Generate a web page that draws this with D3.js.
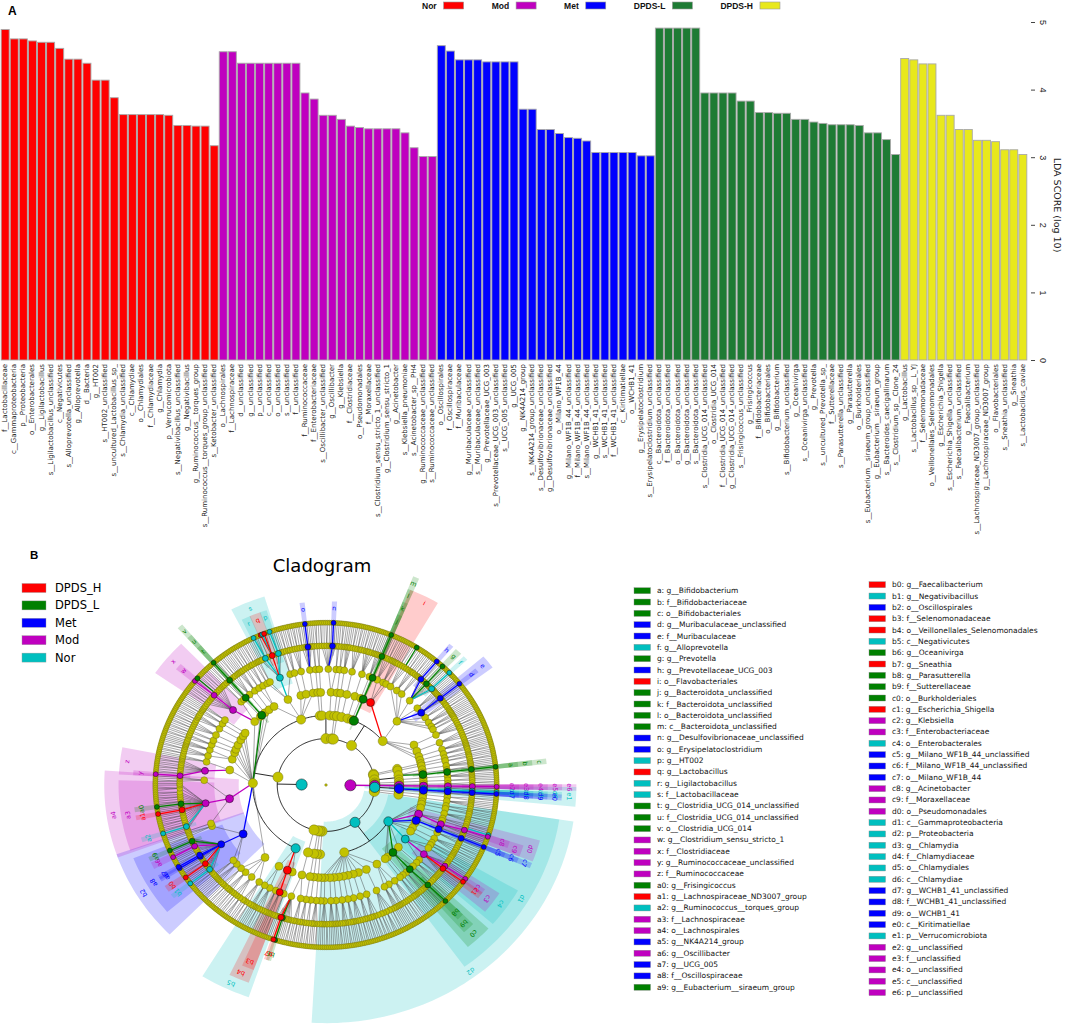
<!DOCTYPE html>
<html>
<head>
<meta charset="utf-8">
<script src="https://cdn.jsdelivr.net/npm/d3@7"></script>
<style>
  body { margin: 0; background: #fff; }
  svg { display: block; font-family: "DejaVu Sans", sans-serif; }
</style>
</head>
<body>
<script>
// ---- panel A data: LDA scores per enriched group
const barGroups = ["Nor", "Mod", "Met", "DPDS-L", "DPDS-H"];

const norTaxa = ["f__Lactobacillaceae", "c__Gammaproteobacteria", "p__Proteobacteria", "o__Enterobacterales",
  "g__Ligilactobacillus", "s__Ligilactobacillus_unclassified", "c__Negativicutes", "s__Alloprevotella_unclassified",
  "g__Alloprevotella", "d__Bacteria", "g__HT002", "s__HT002_unclassified", "s__uncultured_Lactobacillus_sp_",
  "s__Chlamydia_unclassified", "c__Chlamydiae", "o__Chlamydiales", "f__Chlamydiaceae", "g__Chlamydia",
  "p__Verrucomicrobiota", "s__Negativibacillus_unclassified", "g__Negativibacillus", "g__Ruminococcus__torques_group",
  "s__Ruminococcus__torques_group_unclassified", "s__Ketobacter_unclassified"];
const norScores = [4.89, 4.75, 4.75, 4.72, 4.70, 4.70, 4.61, 4.45, 4.45, 4.39, 4.14, 4.14, 3.88,
  3.63, 3.63, 3.63, 3.63, 3.63, 3.62, 3.47, 3.47, 3.46, 3.46, 3.17];

const modTaxa = ["o__Lachnospirales", "f__Lachnospiraceae", "d__unclassified", "g__unclassified", "p__unclassified",
  "c__unclassified", "o__unclassified", "s__unclassified", "f__unclassified", "f__Ruminococcaceae",
  "f__Enterobacteriaceae", "s__Oscillibacter_unclassified", "g__Oscillibacter", "g__Klebsiella", "f__Clostridiaceae",
  "o__Pseudomonadales", "f__Moraxellaceae", "s__Clostridium_sensu_stricto_1_unclassified",
  "g__Clostridium_sensu_stricto_1", "g__Acinetobacter", "s__Klebsiella_pneumoniae", "s__Acinetobacter_sp__PH4",
  "g__Ruminococcaceae_unclassified", "s__Ruminococcaceae_unclassified"];
const modScores = [4.56, 4.56, 4.39, 4.39, 4.39, 4.39, 4.39, 4.39, 4.39, 3.95, 3.86, 3.62, 3.62, 3.56,
  3.46, 3.44, 3.42, 3.42, 3.42, 3.42, 3.36, 3.14, 3.01, 3.01];

const metTaxa = ["o__Oscillospirales", "f__Oscillospiraceae", "f__Muribaculaceae", "g__Muribaculaceae_unclassified",
  "s__Muribaculaceae_unclassified", "g__Prevotellaceae_UCG_003", "s__Prevotellaceae_UCG_003_unclassified",
  "s__UCG_005_unclassified", "g__UCG_005", "g__NK4A214_group", "s__NK4A214_group_unclassified",
  "s__Desulfovibrionaceae_unclassified", "g__Desulfovibrionaceae_unclassified", "o__Milano_WF1B_44",
  "g__Milano_WF1B_44_unclassified", "f__Milano_WF1B_44_unclassified", "s__Milano_WF1B_44_unclassified",
  "g__WCHB1_41_unclassified", "s__WCHB1_41_unclassified", "f__WCHB1_41_unclassified", "c__Kiritimatiellae",
  "o__WCHB1_41", "g__Erysipelatoclostridium", "s__Erysipelatoclostridium_unclassified"];
const metScores = [4.65, 4.57, 4.44, 4.44, 4.44, 4.41, 4.41, 4.41, 4.41, 3.71, 3.71, 3.41, 3.41, 3.35,
  3.29, 3.28, 3.24, 3.07, 3.07, 3.07, 3.07, 3.07, 3.02, 3.02];

const dpdsLTaxa = ["c__Bacteroidota_unclassified", "f__Bacteroidota_unclassified", "o__Bacteroidota_unclassified",
  "g__Bacteroidota_unclassified", "s__Bacteroidota_unclassified", "s__Clostridia_UCG_014_unclassified",
  "o__Clostridia_UCG_014", "f__Clostridia_UCG_014_unclassified", "g__Clostridia_UCG_014_unclassified",
  "s__Frisingicoccus_unclassified", "g__Frisingicoccus", "f__Bifidobacteriaceae", "o__Bifidobacteriales",
  "g__Bifidobacterium", "s__Bifidobacterium_unclassified", "g__Oceanivirga", "s__Oceanivirga_unclassified",
  "g__Prevotella", "s__uncultured_Prevotella_sp_", "f__Sutterellaceae", "s__Parasutterella_unclassified",
  "g__Parasutterella", "o__Burkholderiales", "s__Eubacterium__siraeum_group_unclassified",
  "g__Eubacterium__siraeum_group", "s__Bacteroides_caecigallinarum", "s__Clostridium_sp__Clone_24"];
const dpdsLScores = [4.91, 4.91, 4.91, 4.91, 4.91, 3.95, 3.95, 3.95, 3.95, 3.83, 3.83, 3.66, 3.66, 3.65,
  3.65, 3.56, 3.56, 3.52, 3.50, 3.48, 3.48, 3.48, 3.47, 3.36, 3.36, 3.26, 3.04];

const dpdsHTaxa = ["g__Lactobacillus", "s__Lactobacillus_sp__L_YJ", "f__Selenomonadaceae",
  "o__Veillonellales_Selenomonadales", "g__Escherichia_Shigella", "s__Escherichia_Shigella_unclassified",
  "s__Faecalibacterium_unclassified", "g__Faecalibacterium", "s__Lachnospiraceae_ND3007_group_unclassified",
  "g__Lachnospiraceae_ND3007_group", "o__Flavobacteriales", "s__Sneathia_unclassified", "g__Sneathia",
  "s__Lactobacillus_caviae"];
const dpdsHScores = [4.46, 4.44, 4.38, 4.38, 3.62, 3.62, 3.41, 3.41, 3.25, 3.25, 3.23, 3.11, 3.11, 3.04];

const yTicks = [0, 1, 2, 3, 4, 5];

// ---- panel B data
const cladeGroups = ["DPDS_H", "DPDS_L", "Met", "Mod", "Nor"];

// letter keys shown beside the cladogram
const cladeKeys = [
  ["a", "g__Bifidobacterium"], ["b", "f__Bifidobacteriaceae"], ["c", "o__Bifidobacteriales"],
  ["d", "g__Muribaculaceae_unclassified"], ["e", "f__Muribaculaceae"], ["f", "g__Alloprevotella"],
  ["g", "g__Prevotella"], ["h", "g__Prevotellaceae_UCG_003"], ["i", "o__Flavobacteriales"],
  ["j", "g__Bacteroidota_unclassified"], ["k", "f__Bacteroidota_unclassified"], ["l", "o__Bacteroidota_unclassified"],
  ["m", "c__Bacteroidota_unclassified"], ["n", "g__Desulfovibrionaceae_unclassified"], ["o", "g__Erysipelatoclostridium"],
  ["p", "g__HT002"], ["q", "g__Lactobacillus"], ["r", "g__Ligilactobacillus"], ["s", "f__Lactobacillaceae"],
  ["t", "g__Clostridia_UCG_014_unclassified"], ["u", "f__Clostridia_UCG_014_unclassified"], ["v", "o__Clostridia_UCG_014"],
  ["w", "g__Clostridium_sensu_stricto_1"], ["x", "f__Clostridiaceae"], ["y", "g__Ruminococcaceae_unclassified"],
  ["z", "f__Ruminococcaceae"], ["a0", "g__Frisingicoccus"], ["a1", "g__Lachnospiraceae_ND3007_group"],
  ["a2", "g__Ruminococcus__torques_group"], ["a3", "f__Lachnospiraceae"], ["a4", "o__Lachnospirales"],
  ["a5", "g__NK4A214_group"], ["a6", "g__Oscillibacter"], ["a7", "g__UCG_005"], ["a8", "f__Oscillospiraceae"],
  ["a9", "g__Eubacterium__siraeum_group"],
  ["b0", "g__Faecalibacterium"], ["b1", "g__Negativibacillus"], ["b2", "o__Oscillospirales"],
  ["b3", "f__Selenomonadaceae"], ["b4", "o__Veillonellales_Selenomonadales"], ["b5", "c__Negativicutes"],
  ["b6", "g__Oceanivirga"], ["b7", "g__Sneathia"], ["b8", "g__Parasutterella"], ["b9", "f__Sutterellaceae"],
  ["c0", "o__Burkholderiales"], ["c1", "g__Escherichia_Shigella"], ["c2", "g__Klebsiella"],
  ["c3", "f__Enterobacteriaceae"], ["c4", "o__Enterobacterales"], ["c5", "g__Milano_WF1B_44_unclassified"],
  ["c6", "f__Milano_WF1B_44_unclassified"], ["c7", "o__Milano_WF1B_44"], ["c8", "g__Acinetobacter"],
  ["c9", "f__Moraxellaceae"], ["d0", "o__Pseudomonadales"], ["d1", "c__Gammaproteobacteria"],
  ["d2", "p__Proteobacteria"], ["d3", "g__Chlamydia"], ["d4", "f__Chlamydiaceae"], ["d5", "o__Chlamydiales"],
  ["d6", "c__Chlamydiae"], ["d7", "g__WCHB1_41_unclassified"], ["d8", "f__WCHB1_41_unclassified"],
  ["d9", "o__WCHB1_41"], ["e0", "c__Kiritimatiellae"], ["e1", "p__Verrucomicrobiota"], ["e2", "g__unclassified"],
  ["e3", "f__unclassified"], ["e4", "o__unclassified"], ["e5", "c__unclassified"], ["e6", "p__unclassified"]];

// taxonomy in drawing order (clockwise). "path|digits": each digit is one more genus
// (under a family) with that many species, or extra species (under a genus).
const GM = "p__Proteobacteria;c__Gammaproteobacteria;";
const AL = "p__Proteobacteria;c__Alphaproteobacteria;";
const FU = "p__Fusobacteriota;c__Fusobacteriia;o__Fusobacteriales;";
const NG = "p__Firmicutes;c__Negativicutes;";
const CL = "p__Firmicutes;c__Clostridia;";
const OS = CL + "o__Oscillospirales;f__Oscillospiraceae";
const LA = CL + "o__Lachnospirales;";
const CD = CL + "o__Clostridiales;f__Clostridiaceae";
const BA = "p__Firmicutes;c__Bacilli;";
const LB = BA + "o__Lactobacillales;f__Lactobacillaceae";
const ER = BA + "o__Erysipelotrichales;f__Erysipelotrichaceae";
const DV = "p__Desulfobacterota;c__Desulfovibrionia;o__Desulfovibrionales;f__Desulfovibrionaceae";
const BD = "p__Bacteroidota;c__Bacteroidia;";
const PV = BD + "o__Bacteroidales;f__Prevotellaceae";
const MB = BD + "o__Bacteroidales;f__Muribaculaceae";
const AC = "p__Actinobacteriota;c__Actinobacteria;";

const cladeRows = [
  "d__unclassified;p__unclassified;c__unclassified;o__unclassified;f__unclassified;g__unclassified;s__unclassified",
  "p__Verrucomicrobiota;c__Verrucomicrobiae;o__Verrucomicrobiales;f__Akkermansiaceae|11",
  "p__Verrucomicrobiota;c__Chlamydiae;o__Chlamydiales;f__Chlamydiaceae;g__Chlamydia;s__Chlamydia_unclassified",
  "p__Verrucomicrobiota;c__Kiritimatiellae;o__WCHB1_41;f__WCHB1_41_unclassified;g__WCHB1_41_unclassified;s__WCHB1_41_unclassified",
  "p__Verrucomicrobiota;c__Lentisphaeria;o__Victivallales;f__Victivallaceae|11",
  "p__Campylobacterota;c__Campylobacteria;o__Campylobacterales;f__Helicobacteraceae|21",
  "p__Spirochaetota;c__Spirochaetia;o__Spirochaetales;f__Spirochaetaceae|1111",
  GM + "o__Aeromonadales;f__Aeromonadaceae|21",
  GM + "o__Cardiobacteriales;f__Cardiobacteriaceae|11",
  GM + "o__Xanthomonadales;f__Xanthomonadaceae|2111",
  GM + "o__Pseudomonadales;f__Pseudomonadaceae|21",
  GM + "o__Pseudomonadales;f__Ketobacteraceae;g__Ketobacter;s__Ketobacter_unclassified",
  GM + "o__Pseudomonadales;f__Moraxellaceae;g__Acinetobacter;s__Acinetobacter_sp__PH4",
  GM + "o__Pseudomonadales;f__Moraxellaceae;g__Acinetobacter|1",
  GM + "o__Pseudomonadales;f__Moraxellaceae|11",
  GM + "o__Oceanospirillales;f__Halomonadaceae|11",
  GM + "o__Milano_WF1B_44;f__Milano_WF1B_44_unclassified;g__Milano_WF1B_44_unclassified;s__Milano_WF1B_44_unclassified",
  GM + "o__Legionellales;f__Legionellaceae|211",
  GM + "o__Vibrionales;f__Vibrionaceae|2121",
  GM + "o__Pasteurellales;f__Pasteurellaceae|11",
  GM + "o__Enterobacterales;f__Yersiniaceae|11",
  GM + "o__Enterobacterales;f__Morganellaceae|21",
  GM + "o__Enterobacterales;f__Enterobacteriaceae|11",
  GM + "o__Enterobacterales;f__Enterobacteriaceae;g__Klebsiella;s__Klebsiella_pneumoniae",
  GM + "o__Enterobacterales;f__Enterobacteriaceae;g__Klebsiella|1",
  GM + "o__Enterobacterales;f__Enterobacteriaceae;g__Escherichia_Shigella;s__Escherichia_Shigella_unclassified",
  GM + "o__Enterobacterales;f__Enterobacteriaceae;g__Escherichia_Shigella|1",
  GM + "o__Enterobacterales;f__Enterobacteriaceae|111",
  GM + "o__Enterobacterales;f__Hafniaceae|11",
  GM + "o__Cellvibrionales;f__Cellvibrionaceae|1111",
  GM + "o__Burkholderiales;f__Comamonadaceae|21",
  GM + "o__Burkholderiales;f__Sutterellaceae;g__Parasutterella;s__Parasutterella_unclassified",
  GM + "o__Burkholderiales;f__Sutterellaceae;g__Parasutterella|1",
  GM + "o__Burkholderiales;f__Sutterellaceae|2",
  GM + "o__Burkholderiales;f__Burkholderiaceae|111",
  GM + "o__Methylococcales;f__Methylococcaceae|21",
  GM + "o__Thiotrichales;f__Thiotrichaceae|111",
  AL + "o__Rhizobiales;f__Rhizobiaceae|2121",
  AL + "o__Rhizobiales;f__Beijerinckiaceae|211",
  AL + "o__Rhizobiales;f__Xanthobacteraceae|1111",
  AL + "o__Rhodobacterales;f__Rhodobacteraceae|21312",
  AL + "o__Sphingomonadales;f__Sphingomonadaceae|2211",
  AL + "o__Caulobacterales;f__Caulobacteraceae|211",
  AL + "o__Acetobacterales;f__Acetobacteraceae|2121",
  AL + "o__Rickettsiales;f__Anaplasmataceae|111",
  AL + "o__Rhodospirillales;f__Rhodospirillaceae|2111",
  AL + "o__Micavibrionales;f__Micavibrionaceae|211",
  AL + "o__Elsterales;f__Elsteraceae|1111",
  AL + "o__Reyranellales;f__Reyranellaceae|2111",
  AL + "o__Holosporales;f__Holosporaceae|1",
  "p__Cyanobacteria;c__Cyanobacteriia;o__Chloroplast;f__Chloroplast_f|2111",
  "p__Deferribacterota;c__Deferribacteres;o__Deferribacterales;f__Deferribacteraceae|21",
  "p__Patescibacteria;c__Saccharimonadia;o__Saccharimonadales;f__Saccharimonadaceae|211",
  FU + "f__Fusobacteriaceae|211",
  FU + "f__Leptotrichiaceae|21111",
  FU + "f__Leptotrichiaceae;g__Oceanivirga;s__Oceanivirga_unclassified",
  FU + "f__Leptotrichiaceae;g__Sneathia;s__Sneathia_unclassified",
  FU + "f__Leptotrichiaceae|11",
  NG + "o__Acidaminococcales;f__Acidaminococcaceae|11",
  NG + "o__Veillonellales_Selenomonadales;f__Selenomonadaceae|211",
  NG + "o__Veillonellales_Selenomonadales;f__Veillonellaceae|111",
  NG + "o__Selenomonadales;f__Sporomusaceae|2121",
  NG + "o__Selenomonadales;f__Dialisteraceae|111",
  CL + "o__Peptostreptococcales;f__Peptostreptococcaceae|2211",
  CL + "o__Peptostreptococcales;f__Anaerovoracaceae|3121",
  CL + "o__Peptostreptococcales;f__Family_XI|2111",
  CL + "o__Peptostreptococcales;f__Tissierellaceae|211",
  CL + "o__Oscillospirales;f__Butyricicoccaceae|2111",
  CL + "o__Oscillospirales;f__Eubacterium_coprostanoligenes_group|111",
  OS + "|21",
  OS + ";g__Negativibacillus;s__Negativibacillus_unclassified",
  OS + "|111",
  OS + ";g__Faecalibacterium;s__Faecalibacterium_unclassified",
  OS + ";g__Faecalibacterium|1",
  OS + "|211",
  OS + ";g__NK4A214_group;s__NK4A214_group_unclassified",
  OS + ";g__UCG_005;s__UCG_005_unclassified",
  OS + "|2111",
  OS + ";g__Oscillibacter;s__Oscillibacter_unclassified",
  OS + ";g__Oscillibacter|1",
  OS + "|11",
  OS + ";g__Eubacterium__siraeum_group;s__Eubacterium__siraeum_group_unclassified",
  OS + "|11",
  CL + "o__Oscillospirales;f__UCG_010|211",
  LA + "f__Defluviitaleaceae|1",
  LA + "f__Lachnospiraceae|11",
  LA + "f__Lachnospiraceae;g__Ruminococcus__torques_group;s__Ruminococcus__torques_group_unclassified",
  LA + "f__Lachnospiraceae|2121211",
  LA + "f__Lachnospiraceae;g__Lachnospiraceae_ND3007_group;s__Lachnospiraceae_ND3007_group_unclassified",
  LA + "f__Lachnospiraceae|111",
  LA + "f__Lachnospiraceae;g__Frisingicoccus;s__Frisingicoccus_unclassified",
  LA + "f__Lachnospiraceae|21212311",
  LA + "f__Lachnospirales_UCG|211",
  CL + "o__Ruminococcales;f__Ruminococcaceae;g__Ruminococcaceae_unclassified;s__Ruminococcaceae_unclassified",
  CL + "o__Ruminococcales;f__Ruminococcaceae|2121121",
  CL + "o__Ruminococcales;f__Hungateiclostridiaceae|111",
  CL + "o__Christensenellales;f__Christensenellaceae|2121",
  CL + "o__Christensenellales;f__Christensenellales_f|1111",
  CL + "o__Peptococcales;f__Peptococcaceae|211",
  CL + "o__Monoglobales;f__Monoglobaceae|21",
  CL + "o__Eubacteriales;f__Eubacteriaceae|2121",
  CL + "o__Clostridia_vadinBB60_group;f__vadinBB60_f|2111",
  CL + "o__Acetivibrionales;f__Acetivibrionaceae|211",
  CL + "o__Caldicoprobacterales;f__Caldicoprobacteraceae|111",
  CD + "|21211",
  CD + ";g__Clostridium_sensu_stricto_1;s__Clostridium_sensu_stricto_1_unclassified",
  CD + ";g__Clostridium_sensu_stricto_1|1",
  CD + ";g__Clostridium;s__Clostridium_sp__Clone_24",
  CD + "|2121",
  CL + "o__Clostridiales;f__Clostridiales_f|11",
  CL + "o__Saccharofermentanales;f__Saccharofermentanaceae|21",
  CL + "o__Clostridia_UCG_014;f__Clostridia_UCG_014_unclassified;g__Clostridia_UCG_014_unclassified;s__Clostridia_UCG_014_unclassified",
  CL + "o__Tissierellales;f__Tissierellales_f|2121",
  CL + "o__Thermoanaerobacterales;f__Thermoanaerobacteraceae|1111",
  BA + "o__Bacillales;f__Staphylococcaceae|21",
  BA + "o__Bacillales;f__Bacillaceae|211",
  BA + "o__Lactobacillales;f__Streptococcaceae|21",
  BA + "o__Lactobacillales;f__Enterococcaceae|11",
  LB + "|11",
  LB + ";g__Ligilactobacillus;s__Ligilactobacillus_unclassified",
  LB + ";g__Ligilactobacillus|2",
  LB + "|1",
  LB + ";g__Lactobacillus;s__Lactobacillus_sp__L_YJ",
  LB + ";g__Lactobacillus;s__uncultured_Lactobacillus_sp_",
  LB + ";g__Lactobacillus;s__Lactobacillus_caviae",
  LB + ";g__Lactobacillus|1",
  LB + "|1",
  LB + ";g__HT002;s__HT002_unclassified",
  LB + ";g__HT002|1",
  LB + "|1",
  BA + "o__Lactobacillales;f__Carnobacteriaceae|11",
  BA + "o__Acholeplasmatales;f__Acholeplasmataceae|211",
  BA + "o__RF39;f__RF39_f|2121",
  ER + "|211",
  ER + ";g__Erysipelatoclostridium;s__Erysipelatoclostridium_unclassified",
  ER + "|11",
  "p__Firmicutes;c__Limnochordia;o__Limnochordales;f__Limnochordaceae|11",
  "p__Desulfobacterota;c__Desulfobulbia;o__Desulfobulbales;f__Desulfobulbaceae|21",
  DV + "|21211",
  DV + ";g__Desulfovibrionaceae_unclassified;s__Desulfovibrionaceae_unclassified",
  DV + "|11",
  "p__Desulfobacterota;c__Desulfovibrionia;o__Desulfovibrionales;f__Desulfomicrobiaceae|11",
  "p__Elusimicrobiota;c__Elusimicrobia;o__Elusimicrobiales;f__Elusimicrobiaceae|21",
  "p__Synergistota;c__Synergistia;o__Synergistales;f__Synergistaceae|1111",
  "p__Bacteroidota;c__Rhodothermia;o__Rhodothermales;f__Rhodothermaceae|21211",
  "p__Bacteroidota;c__Ignavibacteria;o__Ignavibacteriales;f__Ignavibacteriaceae|211121",
  "p__Bacteroidota;c__Kryptonia;o__Kryptoniales;f__Kryptoniaceae|1111",
  "p__Bacteroidota;c__Bacteroidota_unclassified;o__Bacteroidota_unclassified;f__Bacteroidota_unclassified;g__Bacteroidota_unclassified;s__Bacteroidota_unclassified",
  BD + "o__Flavobacteriales;f__Flavobacteriaceae|2121",
  BD + "o__Flavobacteriales;f__Weeksellaceae|1111",
  BD + "o__Flavobacteriales;f__Crocinitomicaceae|1",
  BD + "o__Bacteroidales;f__Bacteroidaceae|21",
  BD + "o__Bacteroidales;f__Bacteroidaceae;g__Bacteroides;s__Bacteroides_caecigallinarum",
  BD + "o__Bacteroidales;f__Bacteroidaceae;g__Bacteroides|1",
  BD + "o__Bacteroidales;f__Bacteroidaceae|1",
  BD + "o__Bacteroidales;f__Rikenellaceae|2111",
  BD + "o__Bacteroidales;f__Tannerellaceae|211",
  PV + "|1",
  PV + ";g__Prevotellaceae_UCG_003;s__Prevotellaceae_UCG_003_unclassified",
  PV + "|21",
  PV + ";g__Prevotella;s__uncultured_Prevotella_sp_",
  PV + ";g__Prevotella|1",
  PV + "|111",
  PV + ";g__Alloprevotella;s__Alloprevotella_unclassified",
  PV + "|1",
  BD + "o__Bacteroidales;f__Barnesiellaceae|1111",
  MB + "|11",
  MB + ";g__Muribaculaceae_unclassified;s__Muribaculaceae_unclassified",
  MB + "|11",
  BD + "o__Bacteroidales;f__Marinifilaceae|211",
  BD + "o__Bacteroidales;f__Odoribacteraceae|2111",
  BD + "o__Bacteroidales;f__Paludibacteraceae|111",
  BD + "o__Bacteroidales;f__p_2534|11",
  BD + "o__Chitinophagales;f__Chitinophagaceae|21211",
  BD + "o__Sphingobacteriales;f__Sphingobacteriaceae|2121",
  BD + "o__Cytophagales;f__Cytophagaceae|2111",
  BD + "o__Bacteroidia_unclassified;f__Bacteroidia_f|111",
  "p__Deinococcota;c__Deinococci;o__Deinococcales;f__Deinococcaceae|21",
  "p__Fibrobacterota;c__Fibrobacteria;o__Fibrobacterales;f__Fibrobacteraceae|11",
  AC + "o__Micrococcales;f__Micrococcaceae|2111",
  AC + "o__Corynebacteriales;f__Corynebacteriaceae|11",
  AC + "o__Bifidobacteriales;f__Bifidobacteriaceae;g__Bifidobacterium;s__Bifidobacterium_unclassified",
  "p__Actinobacteriota;c__Coriobacteriia;o__Coriobacteriales;f__Coriobacteriaceae|2111",
  "p__Acidobacteriota;c__Acidobacteriae;o__Acidobacteriales;f__Acidobacteriaceae|11",
  "p__Chloroflexi;c__Anaerolineae;o__Anaerolineales;f__Anaerolineaceae|21"
];

// ---- colours
const barColor = d3.scaleOrdinal().domain(barGroups)
  .range(["#ff0000", "#bf00bf", "#0000ff", "#1e7b34", "#e8e81c"]);
const cladeColor = d3.scaleOrdinal().domain(cladeGroups)
  .range(["#ff0000", "#008000", "#0000ff", "#bf00bf", "#00bfbf"]);
const toClade = g => g.replace("-", "_");
const plainNode = "#c2c200";

const width = 1065, height = 1024;
const svg = d3.select("body").append("svg").attr("width", width).attr("height", height);

// ================= A: LDA bar chart =================
const bars = [];
[[norTaxa, norScores], [modTaxa, modScores], [metTaxa, metScores], [dpdsLTaxa, dpdsLScores], [dpdsHTaxa, dpdsHScores]]
  .forEach(([taxa, scores], gi) => taxa.forEach((t, i) => bars.push({ taxon: t, score: scores[i], group: barGroups[gi] })));

const x = d3.scaleBand().domain(d3.range(bars.length)).range([1, 1027]).paddingInner(0.12).paddingOuter(0.02);
const y = d3.scaleLinear().domain([0, 5]).range([360, 22]);

svg.append("g").selectAll("rect").data(bars).join("rect")
  .attr("x", (d, i) => x(i))
  .attr("y", d => y(d.score))
  .attr("width", x.bandwidth())
  .attr("height", d => y(0) - y(d.score))
  .attr("fill", d => barColor(d.group))
  .attr("stroke", "#a9a9a9")
  .attr("stroke-width", 0.9);

svg.append("g").selectAll("text").data(bars).join("text")
  .attr("transform", (d, i) => `translate(${x(i) + x.bandwidth() / 2},${y(0) + 4}) rotate(-90)`)
  .attr("text-anchor", "end")
  .attr("dominant-baseline", "central")
  .attr("font-size", 7)
  .attr("fill", "#222")
  .text(d => d.taxon);

const yAxis = svg.append("g")
  .attr("transform", "translate(1031,0)")
  .call(d3.axisRight(y).tickValues(yTicks).tickSize(4).tickFormat(d3.format("d")));
yAxis.select(".domain").remove();
yAxis.selectAll("line").attr("stroke", "#444");
yAxis.selectAll("text")
  .attr("x", null).attr("dy", null)
  .attr("transform", "translate(12,0) rotate(90)")
  .attr("text-anchor", "middle")
  .attr("dominant-baseline", "central")
  .attr("font-size", 9)
  .attr("fill", "#222");

svg.append("text")
  .attr("transform", "translate(1057,205) rotate(90)")
  .attr("text-anchor", "middle")
  .attr("dominant-baseline", "central")
  .attr("font-size", 9.5)
  .attr("fill", "#222")
  .text("LDA SCORE (log 10)");

// top legend
const topLegend = svg.append("g").attr("font-family", "Liberation Sans, Arial, sans-serif")
  .attr("font-weight", "bold").attr("font-size", 8.5);
let cursor = 422;
barGroups.forEach(g => {
  const t = topLegend.append("text").attr("x", cursor).attr("y", 9).attr("fill", "#111").text(g);
  const tw = t.node().getComputedTextLength();
  topLegend.append("rect").attr("x", cursor + tw + 7).attr("y", 2).attr("width", 20).attr("height", 7)
    .attr("fill", barColor(g)).attr("stroke", "#999").attr("stroke-width", 0.6);
  cursor += tw + 7 + 20 + 28;
});

svg.append("text").attr("x", 8).attr("y", 15).attr("font-family", "Liberation Sans, Arial, sans-serif")
  .attr("font-weight", "bold").attr("font-size", 12).text("A");

// ================= B: cladogram =================
svg.append("text").attr("x", 30).attr("y", 559).attr("font-family", "Liberation Sans, Arial, sans-serif")
  .attr("font-weight", "bold").attr("font-size", 11.5).text("B");
svg.append("text").attr("x", 322).attr("y", 572).attr("text-anchor", "middle")
  .attr("font-size", 18).text("Cladogram");

// taxon -> enriched group, taxon -> letter
const groupOf = new Map(bars.map(b => [b.taxon, toClade(b.group)]));
const letterOf = new Map(cladeKeys.map(([k, t]) => [t, k]));

function buildTree(rows) {
  const top = { name: "root", children: [] };
  const index = new Map([["", top]]);
  let filler = 0;
  rows.forEach(row => {
    const [path, digits] = row.split("|");
    const parts = path.startsWith("d__") ? path.split(";") : ["d__Bacteria", ...path.split(";")];
    let key = "", node = top;
    parts.forEach(p => {
      key += ";" + p;
      if (!index.has(key)) {
        const n = { name: p, children: [] };
        node.children.push(n);
        index.set(key, n);
      }
      node = index.get(key);
    });
    if (!digits) return;
    if (parts[parts.length - 1].startsWith("g__")) {
      const n = d3.sum(digits.split(""), Number);
      for (let i = 0; i < n; i++) node.children.push({ name: "s__~" + (++filler) });
    } else {
      digits.split("").forEach(ch => {
        const genus = { name: "g__~" + (++filler), children: [] };
        for (let i = 0; i < +ch; i++) genus.children.push({ name: "s__~" + (++filler) });
        node.children.push(genus);
      });
    }
  });
  return top;
}

const cx = 326, cy = 785, sx = 1.022, sy = 0.972;
const rr = d3.scaleLinear().domain([0, 7]).range([0, 167]);
const nodeSize = [1.3, 5.6, 5.1, 4.6, 4.0, 3.5, 3.0, 2.5];
const rad = a => a * Math.PI / 180;
const pt = (a, r) => [cx + sx * r * Math.cos(rad(a)), cy + sy * r * Math.sin(rad(a))];
const arcPts = (a1, a2, r) => {
  const n = Math.max(2, Math.ceil(Math.abs(a2 - a1) / 1.2) + 1);
  return d3.range(n).map(i => pt(a1 + (a2 - a1) * i / (n - 1), r));
};
const line = d3.line();

const tree = d3.hierarchy(buildTree(cladeRows));
const leaves = tree.leaves();
const step = 360 / leaves.length;
leaves.forEach((d, i) => { d.a = 0.6 + i * step; d.lo = d.hi = d.a; });
tree.eachAfter(d => {
  if (!d.children) return;
  const f = d.children[0], l = d.children[d.children.length - 1];
  d.a = (f.a + l.a) / 2; d.lo = f.lo; d.hi = l.hi;
});
tree.each(d => {
  d.grp = groupOf.get(d.data.name);
  [d.px, d.py] = pt(d.a, rr(d.depth));
});

// shaded clades
const marked = tree.descendants().filter(d => d.grp && d.depth >= 2 && d.depth <= 6)
  .sort((a, b) => a.depth - b.depth);
const outerR = d => rr(7) + 22 + 14 * (6 - d.depth);
const gShade = svg.append("g");
marked.forEach(d => {
  const a1 = d.lo - step / 2 - 0.45, a2 = d.hi + step / 2 + 0.45;
  const pts = [...arcPts(a1, a2, outerR(d)), ...arcPts(a2, a1, rr(d.depth) - 10)];
  gShade.append("path").attr("d", line(pts) + "Z")
    .attr("fill", cladeColor(d.grp)).attr("fill-opacity", 0.2).attr("stroke", "none");
});

// branches
const gEdge = svg.append("g").attr("fill", "none");
const colouredEdges = [];
tree.descendants().filter(d => d.children && d.depth > 0).forEach(p => {
  if (p.depth <= 2 && p.children.length > 1) {
    gEdge.append("path")
      .attr("d", line(arcPts(p.children[0].a, p.children[p.children.length - 1].a, rr(p.depth + 1))))
      .attr("stroke", "#111").attr("stroke-width", 0.9);
    gEdge.append("path").attr("d", line([pt(p.a, rr(p.depth)), pt(p.a, rr(p.depth + 1))]))
      .attr("stroke", "#111").attr("stroke-width", 0.9);
  } else {
    p.children.forEach(c => {
      if (c.grp) colouredEdges.push([p, c]);
      else gEdge.append("line").attr("x1", p.px).attr("y1", p.py).attr("x2", c.px).attr("y2", c.py)
        .attr("stroke", "#3c3c3c").attr("stroke-width", 0.45);
    });
  }
});
colouredEdges.forEach(([p, c]) => {
  gEdge.append("line").attr("x1", p.px).attr("y1", p.py).attr("x2", c.px).attr("y2", c.py)
    .attr("stroke", cladeColor(c.grp)).attr("stroke-width", 1.3);
});

// nodes: plain ones first (outer to inner), then enriched ones on top
const allNodes = tree.descendants().sort((a, b) =>
  (!!a.grp - !!b.grp) || (b.depth - a.depth));
svg.append("g").selectAll("circle").data(allNodes).join("circle")
  .attr("cx", d => d.px).attr("cy", d => d.py)
  .attr("r", d => nodeSize[d.depth])
  .attr("fill", d => d.grp ? cladeColor(d.grp) : plainNode)
  .attr("stroke", d => d.grp ? "#111" : "#66661a")
  .attr("stroke-width", d => d.grp ? 0.5 : 0.4);

// clade letters at the outer edge of each shade
svg.append("g").selectAll("text").data(marked.filter(d => letterOf.has(d.data.name))).join("text")
  .attr("transform", d => {
    const [lx, ly] = pt(d.a, outerR(d) - 7);
    return `translate(${lx},${ly}) rotate(${d.a + 90})`;
  })
  .attr("text-anchor", "middle")
  .attr("dominant-baseline", "central")
  .attr("font-size", 6.5)
  .attr("fill", d => cladeColor(d.grp))
  .text(d => letterOf.get(d.data.name));

// group legend
const gLeg = svg.append("g");
cladeGroups.forEach((g, i) => {
  const yy = 588 + i * 17.4;
  gLeg.append("rect").attr("x", 22).attr("y", yy - 4.5).attr("width", 24).attr("height", 9)
    .attr("fill", cladeColor(g)).attr("stroke", "#999").attr("stroke-width", 0.4);
  gLeg.append("text").attr("x", 55).attr("y", yy).attr("dominant-baseline", "central")
    .attr("font-size", 11.5).text(g);
});

// letter key legend, two columns
const keyCols = [
  { items: cladeKeys.slice(0, 36), x: 634, y0: 590.7 },
  { items: cladeKeys.slice(36), x: 869, y0: 584.7 }
];
keyCols.forEach(col => {
  const g = svg.append("g");
  col.items.forEach(([k, t], i) => {
    const yy = col.y0 + i * 11.33;
    g.append("rect").attr("x", col.x).attr("y", yy - 3).attr("width", 16.5).attr("height", 6)
      .attr("fill", cladeColor(groupOf.get(t))).attr("stroke", "#888").attr("stroke-width", 0.4);
    g.append("text").attr("x", col.x + 23).attr("y", yy).attr("dominant-baseline", "central")
      .attr("font-size", 7.5).attr("fill", "#111").text(`${k}: ${t}`);
  });
});
</script>
</body>
</html>
